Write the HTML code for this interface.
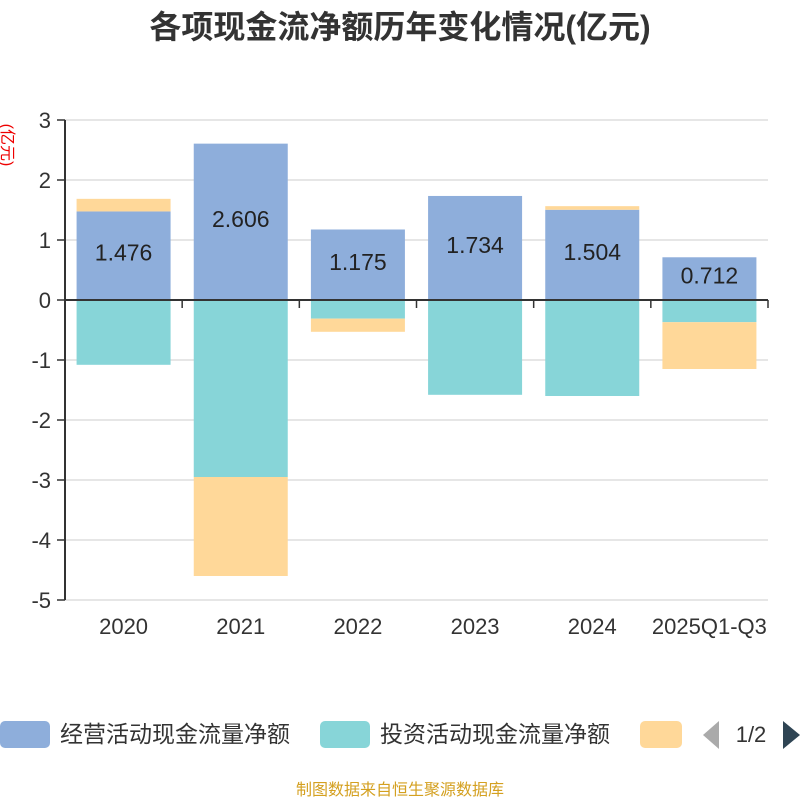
<!DOCTYPE html>
<html><head><meta charset="utf-8"><style>
body{margin:0;background:#fff;width:800px;height:800px;overflow:hidden;font-family:"Liberation Sans","Noto Sans CJK SC",sans-serif}
</style></head><body>
<svg id="c" width="800" height="800" xmlns="http://www.w3.org/2000/svg" font-family="Liberation Sans, Noto Sans CJK SC, sans-serif">
<text x="400" y="38" text-anchor="middle" font-size="32" font-weight="bold" fill="#333">各项现金流净额历年变化情况(亿元)</text>
<text transform="translate(2,145) rotate(90)" text-anchor="middle" font-size="16" fill="#e00">(亿元)</text>
<g id="grid"></g><g id="bars"></g><g id="axes"></g>
<g>
<rect x="0" y="721" width="50" height="27" rx="5" fill="#8eaedb"/>
<text x="60" y="742" font-size="23" fill="#333">经营活动现金流量净额</text>
<rect x="320" y="721" width="50" height="27" rx="5" fill="#87d5d8"/>
<text x="380" y="742" font-size="23" fill="#333">投资活动现金流量净额</text>
<rect x="640" y="721" width="42" height="27" rx="5" fill="#ffd899"/>
<polygon points="719,721 719,749 703,735" fill="#aaa"/>
<text x="751" y="742" text-anchor="middle" font-size="22" fill="#333">1/2</text>
<polygon points="783,721 783,749 800,735" fill="#2f4554"/>
</g>
<text x="400" y="795" text-anchor="middle" font-size="16" fill="#d4a020">制图数据来自恒生聚源数据库</text>
</svg>
<script>
const categories=["2020","2021","2022","2023","2024","2025Q1-Q3"];
const operating=[1.476,2.606,1.175,1.734,1.504,0.712];
const investing=[-1.08,-2.95,-0.31,-1.58,-1.6,-0.37];
const financing=[0.21,-1.65,-0.22,0,0.06,-0.78];
const yTicks=[3,2,1,0,-1,-2,-3,-4,-5];
const NS="http://www.w3.org/2000/svg";
const x0=65,x1=768,yTop=120,yBot=600,yMax=3,yMin=-5;
const y=v=>yTop+(yMax-v)/(yMax-yMin)*(yBot-yTop);
const band=(x1-x0)/categories.length;
const bw=94;
function mk(t,a,p){const e=document.createElementNS(NS,t);for(const k in a)e.setAttribute(k,a[k]);p.appendChild(e);return e;}
const grid=document.getElementById('grid'),bars=document.getElementById('bars'),axes=document.getElementById('axes');
yTicks.forEach(v=>{
 const l=mk('line',{x1:x0,x2:x1,y1:y(v),y2:y(v),stroke:'#ccc','stroke-width':1},grid);
 
 
 const tk=mk('line',{x1:x0-8,x2:x0,y1:y(v),y2:y(v),stroke:'#333','stroke-width':1.5},axes);
 
 
 const t=mk('text',{x:x0-14,y:y(v)+8,'text-anchor':'end','font-size':22,fill:'#333'},axes);
 t.textContent=v;
 
 
});
categories.forEach((c,i)=>{
 const cx=x0+band*(i+0.5),bx=cx-bw/2;
 let pos=0,neg=0;
 const seg=(v,col,name)=>{
  if(!v)return;
  let a,b;
  if(v>0){a=pos;b=pos+v;pos=b;}else{a=neg;b=neg+v;neg=b;}
  const r=mk('rect',{x:bx,y:Math.min(y(a),y(b)),width:bw,height:Math.abs(y(a)-y(b)),fill:col},bars);
  
  
 };
 seg(operating[i],'#8eaedb','bar-operating-'+c);
 seg(investing[i],'#87d5d8','bar-investing-'+c);
 seg(financing[i],'#ffd899','bar-financing-'+c);
 const t=mk('text',{x:cx,y:y(operating[i]/2)+5,'text-anchor':'middle','font-size':23,fill:'#222'},bars);
 t.textContent=operating[i].toFixed(3);
 
 
 const xl=mk('text',{x:cx,y:634,'text-anchor':'middle','font-size':22,fill:'#333'},axes);
 xl.textContent=c;
 
 
});
for(let i=0;i<=categories.length;i++){
 const tk=mk('line',{x1:x0+band*i,x2:x0+band*i,y1:y(0),y2:y(0)+8,stroke:'#333','stroke-width':1.5},axes);
 
 
}
const ya=mk('line',{x1:x0,x2:x0,y1:yTop,y2:yBot,stroke:'#333','stroke-width':2},axes);


const xa=mk('line',{x1:x0,x2:x1,y1:y(0),y2:y(0),stroke:'#333','stroke-width':2},axes);


</script>
</body></html>
